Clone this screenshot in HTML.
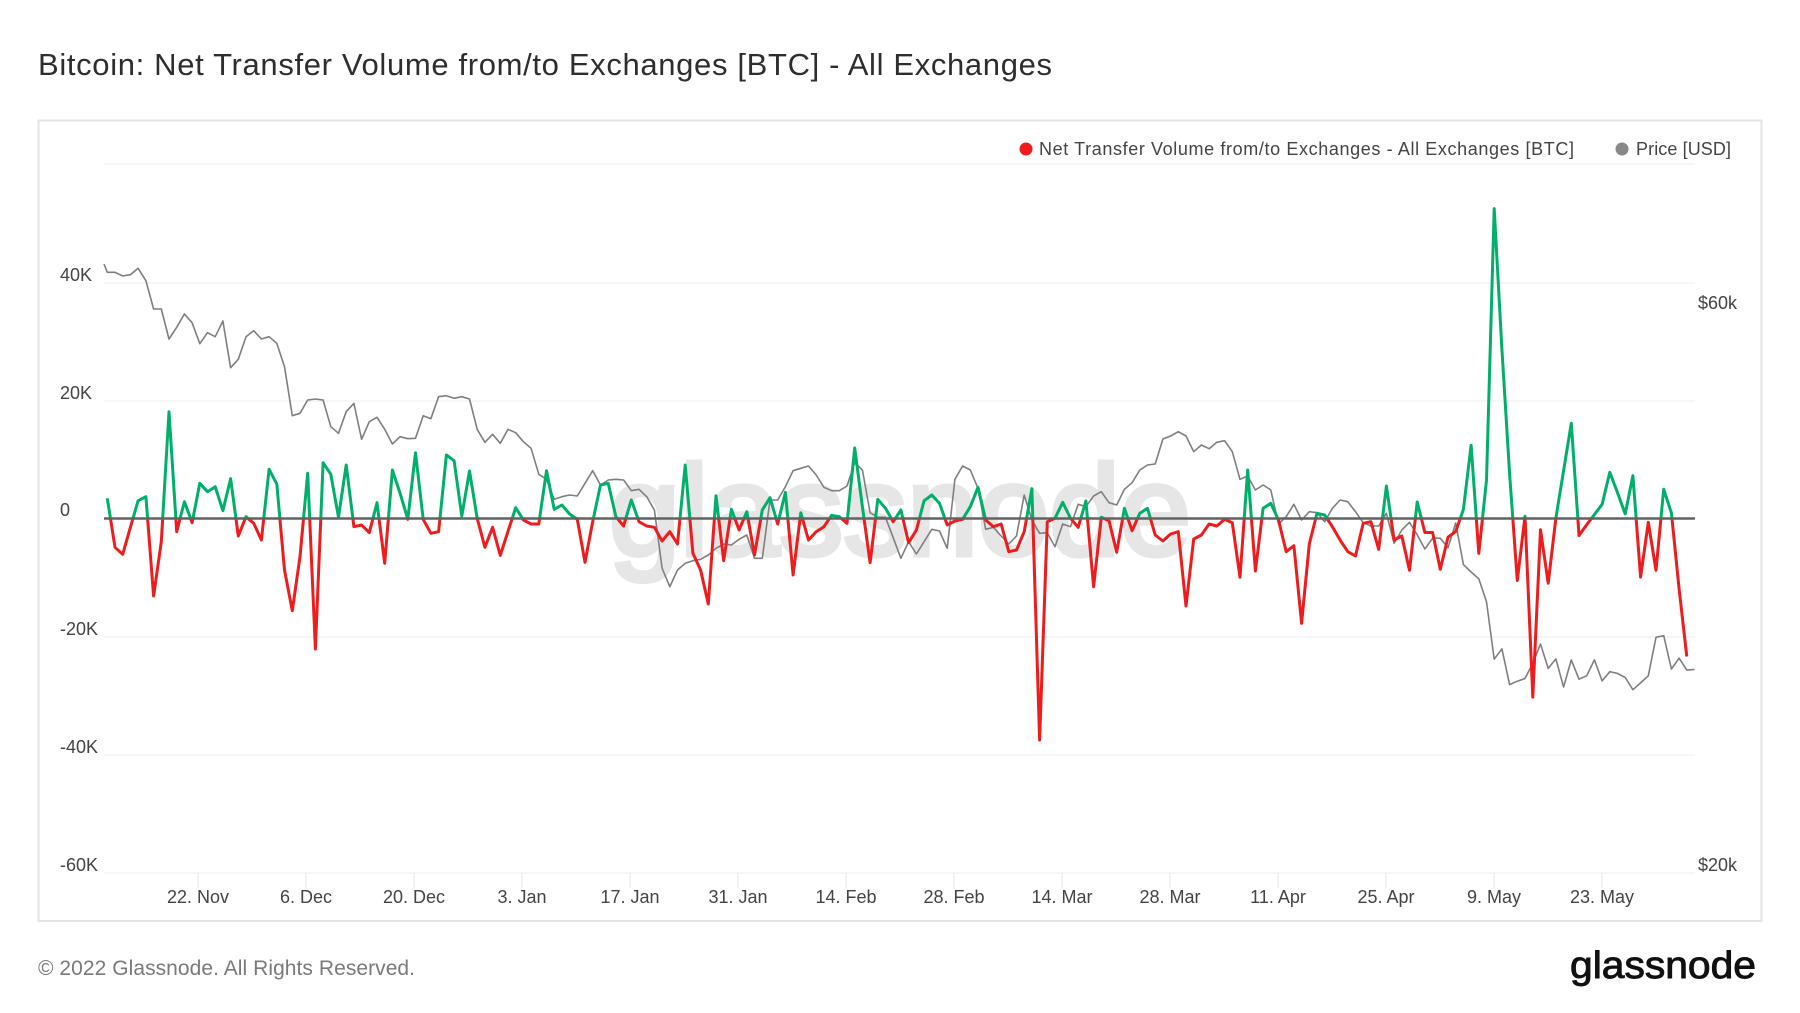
<!DOCTYPE html>
<html><head><meta charset="utf-8"><style>
html,body{margin:0;padding:0;background:#fff;}
svg{display:block;}
text{font-family:"Liberation Sans",Arial,sans-serif;}
</style></head><body>
<svg width="1800" height="1013" viewBox="0 0 1800 1013" xmlns="http://www.w3.org/2000/svg">
<rect width="1800" height="1013" fill="#fff"/>
<text x="38" y="75" font-size="31" fill="#2e2e2e" textLength="1014" lengthAdjust="spacing">Bitcoin: Net Transfer Volume from/to Exchanges [BTC] - All Exchanges</text>
<rect x="38.5" y="120.5" width="1723" height="800.5" fill="#fff" stroke="#e3e3e3" stroke-width="2"/>
<!-- watermark -->
<text x="609" y="555" font-size="128" fill="#e6e6e6" stroke="#e6e6e6" stroke-width="5" textLength="582" lengthAdjust="spacingAndGlyphs">glassnode</text>
<!-- gridlines -->
<g stroke="#ececec" stroke-width="1">
<line x1="104" y1="164" x2="1695" y2="164"/>
<line x1="104" y1="283" x2="1695" y2="283"/>
<line x1="104" y1="401" x2="1695" y2="401"/>
<line x1="104" y1="637" x2="1695" y2="637"/>
<line x1="104" y1="755" x2="1695" y2="755"/>
<line x1="104" y1="873" x2="1695" y2="873"/>
</g>
<g stroke="#e6e6e6" stroke-width="1">
<line x1="198" y1="873" x2="198" y2="888"/><line x1="306" y1="873" x2="306" y2="888"/><line x1="414" y1="873" x2="414" y2="888"/><line x1="522" y1="873" x2="522" y2="888"/><line x1="630" y1="873" x2="630" y2="888"/><line x1="738" y1="873" x2="738" y2="888"/><line x1="846" y1="873" x2="846" y2="888"/><line x1="954" y1="873" x2="954" y2="888"/><line x1="1062" y1="873" x2="1062" y2="888"/><line x1="1170" y1="873" x2="1170" y2="888"/><line x1="1278" y1="873" x2="1278" y2="888"/><line x1="1386" y1="873" x2="1386" y2="888"/><line x1="1494" y1="873" x2="1494" y2="888"/><line x1="1602" y1="873" x2="1602" y2="888"/>
</g>
<!-- left axis labels -->
<g font-size="18" fill="#444">
<text x="60" y="281">40K</text>
<text x="60" y="399">20K</text>
<text x="60" y="516">0</text>
<text x="60" y="635">-20K</text>
<text x="60" y="753">-40K</text>
<text x="60" y="871">-60K</text>
</g>
<g font-size="18" fill="#444">
<text x="1698" y="309">$60k</text>
<text x="1698" y="871">$20k</text>
</g>
<!-- x labels -->
<g font-size="18" fill="#444" text-anchor="middle">
<text x="198" y="903">22. Nov</text><text x="306" y="903">6. Dec</text><text x="414" y="903">20. Dec</text><text x="522" y="903">3. Jan</text><text x="630" y="903">17. Jan</text><text x="738" y="903">31. Jan</text><text x="846" y="903">14. Feb</text><text x="954" y="903">28. Feb</text><text x="1062" y="903">14. Mar</text><text x="1170" y="903">28. Mar</text><text x="1278" y="903">11. Apr</text><text x="1386" y="903">25. Apr</text><text x="1494" y="903">9. May</text><text x="1602" y="903">23. May</text>
</g>
<!-- legend -->
<circle cx="1026" cy="149" r="6.5" fill="#ee1c1c"/>
<text x="1039" y="155" font-size="18" fill="#444" textLength="535" lengthAdjust="spacing">Net Transfer Volume from/to Exchanges - All Exchanges [BTC]</text>
<circle cx="1622" cy="149" r="6.5" fill="#888"/>
<text x="1636" y="155" font-size="18" fill="#444" textLength="95" lengthAdjust="spacing">Price [USD]</text>
<defs>
<clipPath id="above"><rect x="90" y="100" width="1650" height="418.5"/></clipPath>
<clipPath id="below"><rect x="90" y="518.5" width="1650" height="400"/></clipPath>
</defs>
<!-- price -->
<polyline fill="none" stroke="#7f7f7f" stroke-width="1.6" stroke-linejoin="round" points="104,264 107.3,272.3 115.0,272.3 122.7,276 130.4,274.7 138.1,268.3 145.9,280.7 153.6,309 161.3,309 169.0,339 176.7,327.3 184.4,314 192.1,322.7 199.8,343.7 207.5,332.7 215.2,336.7 222.9,321 230.6,367.7 238.3,359.3 246.0,336.7 253.7,330.7 261.4,339 269.1,336.7 276.8,343.3 284.5,366.7 292.3,415.7 300.0,413.3 307.7,400 315.4,399 323.1,400 330.8,426.7 338.5,433.3 346.2,411.7 353.9,403.3 361.6,439.3 369.3,421.7 377.0,417.3 384.7,429.3 392.4,444 400.1,436.7 407.8,438.7 415.5,438.3 423.2,415.7 430.9,418.7 438.6,396.7 446.4,395.7 454.1,398.3 461.8,396.7 469.5,399 477.2,429.3 484.9,442.3 492.6,434.3 500.3,443.3 508.0,429.3 515.7,432.7 523.4,441.7 531.1,448.3 538.8,474.3 546.5,479.3 554.2,499.3 561.9,496.7 569.6,495 577.3,496 585.0,483.3 592.7,470.7 600.5,485 608.2,480 615.9,479.3 623.6,480 631.3,490.7 639.0,489.3 646.7,496.7 654.4,510 662.1,568.3 669.8,586.7 677.5,570 685.2,563.3 692.9,560.7 700.6,559.3 708.3,555 716.0,548.3 723.7,544 731.4,545 739.1,539.3 746.8,535 754.5,558.3 762.3,558.3 770.0,500 777.7,500 785.4,486.7 793.1,470.7 800.8,468.3 808.5,466 816.2,475 823.9,487.3 831.6,490.7 839.3,490.7 847.0,486 854.7,462.7 862.4,470 870.1,512.7 877.8,517.3 885.5,517.3 893.2,537.7 900.9,558.3 908.6,541.7 916.4,554 924.1,541.7 931.8,529.3 939.5,531 947.2,548.3 954.9,479.3 962.6,466 970.3,470 978.0,488.3 985.7,529.3 993.4,527.3 1001.1,536 1008.8,544 1016.5,536 1024.2,495 1031.9,520 1039.6,533.3 1047.3,532.7 1055.0,546.7 1062.7,524 1070.5,526.7 1078.2,504.3 1085.9,506.7 1093.6,496 1101.3,491.7 1109.0,502.7 1116.7,505 1124.4,489.3 1132.1,482.7 1139.8,470 1147.5,465 1155.2,464 1162.9,439 1170.6,436 1178.3,431.7 1186.0,436 1193.7,451.7 1201.4,445 1209.1,448.7 1216.8,442.3 1224.6,440.7 1232.3,451.7 1240.0,479.3 1247.7,476 1255.4,490 1263.1,485 1270.8,490 1278.5,524 1286.2,516.7 1293.9,504.3 1301.6,520 1309.3,511.7 1317.0,512.7 1324.7,521.7 1332.4,508.3 1340.1,500 1347.8,501.7 1355.5,511.7 1363.2,522.7 1370.9,526 1378.7,526 1386.4,513.3 1394.1,543.3 1401.8,530 1409.5,522.3 1417.2,534.8 1424.9,549 1432.6,538.2 1440.3,538.2 1448.0,547.7 1455.7,523 1463.4,564.6 1471.1,572 1478.8,578.8 1486.5,601.8 1494.2,659.2 1501.9,648.8 1509.6,684.6 1517.3,681.2 1525.0,678.5 1532.8,663.3 1540.5,644 1548.2,668.4 1555.9,658.9 1563.6,687 1571.3,659.9 1579.0,679.2 1586.7,675.8 1594.4,659.9 1602.1,680.9 1609.8,671.7 1617.5,673.4 1625.2,677.5 1632.9,689.7 1640.6,682.9 1648.3,675.8 1656.0,637.3 1663.7,635.6 1671.4,669 1679.1,658.2 1686.8,670.1 1694.5,669.4"/>
<!-- net flow -->
<g id="nf">
<polyline id="nfl" fill="none" stroke-width="3" stroke-linejoin="round" points="107.3,498.3 115.0,547.3 122.7,554.3 130.4,527.3 138.1,500.7 145.9,496.7 153.6,596 161.3,541.7 169.0,411.7 176.7,531.7 184.4,501.7 192.1,522.7 199.8,483.3 207.5,491.7 215.2,486.7 222.9,510.7 230.6,478.7 238.3,536 246.0,516.7 253.7,523.3 261.4,540 269.1,469.3 276.8,484 284.5,570 292.3,610.7 300.0,556.7 307.7,473.3 315.4,649 323.1,462.7 330.8,474.3 338.5,517.3 346.2,465 353.9,526.7 361.6,525 369.3,532.7 377.0,502.7 384.7,563.3 392.4,470 400.1,493.3 407.8,519.3 415.5,452.7 423.2,519.3 430.9,533.3 438.6,531.7 446.4,455 454.1,460.7 461.8,516 469.5,471 477.2,518.3 484.9,547.3 492.6,527.3 500.3,555.3 508.0,531.3 515.7,507.7 523.4,520 531.1,524 538.8,524 546.5,470.7 554.2,509.3 561.9,505 569.6,514 577.3,519.3 585.0,562.3 592.7,521.7 600.5,485 608.2,483.3 615.9,516.7 623.6,526 631.3,500 639.0,521.7 646.7,526 654.4,527.3 662.1,541 669.8,531.7 677.5,544 685.2,465 692.9,553.3 700.6,570 708.3,604 716.0,495.7 723.7,560.7 731.4,509.3 739.1,530 746.8,511.7 754.5,555 762.3,510 770.0,497.7 777.7,524 785.4,492.3 793.1,575 800.8,512.7 808.5,540 816.2,531.7 823.9,526.7 831.6,515.3 839.3,516.7 847.0,523.3 854.7,448 862.4,506.7 870.1,562.7 877.8,499.3 885.5,508.3 893.2,521.7 900.9,510 908.6,542.7 916.4,530 924.1,500.7 931.8,495 939.5,503.3 947.2,525 954.9,521 962.6,519.3 970.3,506.7 978.0,487.3 985.7,520 993.4,526.7 1001.1,524 1008.8,551.7 1016.5,550 1024.2,531.7 1031.9,488.7 1039.6,740 1047.3,521.7 1055.0,518.3 1062.7,502.3 1070.5,518.3 1078.2,527.3 1085.9,501 1093.6,586.7 1101.3,517.3 1109.0,520.7 1116.7,552.3 1124.4,508.3 1132.1,530.7 1139.8,513.3 1147.5,508.3 1155.2,535 1162.9,541 1170.6,534 1178.3,531.7 1186.0,606 1193.7,539 1201.4,535 1209.1,524 1216.8,526 1224.6,519.3 1232.3,522.7 1240.0,577.3 1247.7,470 1255.4,571 1263.1,508.3 1270.8,503.3 1278.5,520 1286.2,551.7 1293.9,545.7 1301.6,623.3 1309.3,544 1317.0,513.3 1324.7,515 1332.4,526.7 1340.1,540 1347.8,551.7 1355.5,556 1363.2,523.3 1370.9,521.7 1378.7,549.3 1386.4,486 1394.1,540 1401.8,536 1409.5,570.3 1417.2,502 1424.9,532.5 1432.6,532.5 1440.3,569.3 1448.0,537.2 1455.7,531.5 1463.4,509.5 1471.1,445.2 1478.8,553.4 1486.5,480.1 1494.2,208.6 1501.9,348.9 1509.6,474 1517.3,580.5 1525.0,516.2 1532.8,697.1 1540.5,529.8 1548.2,583.2 1555.9,517.9 1563.6,470.6 1571.3,423.3 1579.0,535.5 1586.7,524.7 1594.4,514.5 1602.1,504.4 1609.8,472.3 1617.5,492.6 1625.2,513.9 1632.9,475.7 1640.6,577.1 1648.3,522.3 1656.0,570.3 1663.7,489.2 1671.4,512.9 1679.1,588.9 1686.8,656.5"/>
</g>
<use href="#nfl" clip-path="url(#above)" stroke="#00b06a"/>
<use href="#nfl" clip-path="url(#below)" stroke="#ee1c1c"/>
<!-- zero line -->
<line x1="104" y1="518.5" x2="1695" y2="518.5" stroke="#626262" stroke-width="2.6"/>
<!-- footer -->
<text x="38" y="975" font-size="21" fill="#7a7a7a" textLength="377" lengthAdjust="spacing">© 2022 Glassnode. All Rights Reserved.</text>
<text x="1570" y="978" font-size="38" fill="#111" stroke="#111" stroke-width="0.9" textLength="186" lengthAdjust="spacingAndGlyphs">glassnode</text>
</svg>
</body></html>
